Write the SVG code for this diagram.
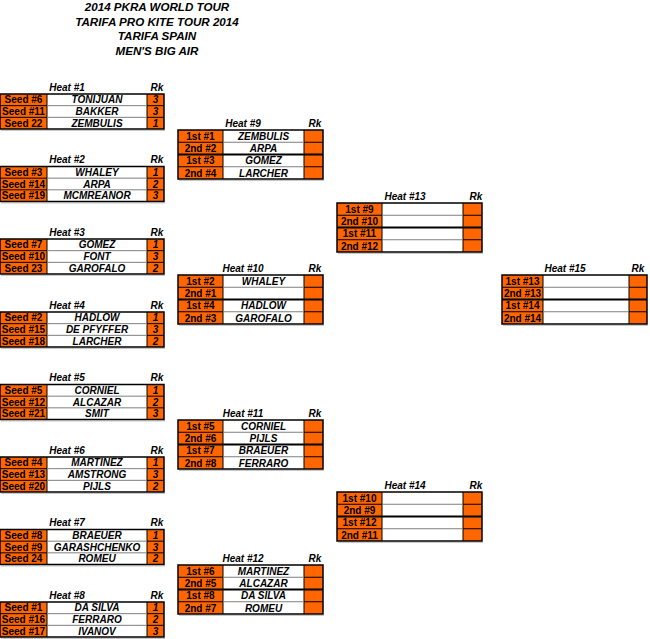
<svg xmlns="http://www.w3.org/2000/svg" width="650" height="639" viewBox="0 0 650 639">
<style>
text{font-family:"Liberation Sans",Arial,sans-serif;font-weight:bold;font-size:10px;fill:#000;text-anchor:middle}
.ti{font-size:11.6px;font-style:italic}
.it{font-style:italic}
.or{fill:#FF6600}
.wh{fill:#fff}
.bl{stroke:#000;stroke-width:1;fill:none}
.gr{stroke:#7f7f7f;stroke-width:1;fill:none}
.tk{stroke:#000;stroke-width:2;fill:none}
.ob{stroke:#000;stroke-width:1.5;fill:none}
.sh{stroke:#c8c8c8;stroke-width:1;fill:none}
</style>
<defs>
<g id="t3">
<rect class="or" x="0" y="0" width="47" height="35"/>
<rect class="wh" x="47" y="0" width="100" height="35"/>
<rect class="or" x="147" y="0" width="17" height="35"/>
<path class="bl" d="M0 11.67H47M0 23.33H47M147 11.67H164M147 23.33H164M47 0V35M147 0V35"/>
<path class="gr" d="M47 11.67H147M47 23.33H147"/>
<path class="sh" d="M1 36.5H165"/>
<rect class="ob" x="0" y="0" width="164" height="35"/>
</g>
<g id="t4a">
<rect class="or" x="0" y="0" width="45" height="49"/>
<rect class="wh" x="45" y="0" width="81" height="49"/>
<rect class="or" x="126" y="0" width="19" height="49"/>
<path class="bl" d="M0 12.25H45M0 36.75H45M126 12.25H145M126 36.75H145M45 0V49M126 0V49"/>
<path class="gr" d="M45 12.25H126M45 36.75H126"/>
<path class="tk" d="M0 24.5H145"/>
<path class="sh" d="M1 50.5H146"/>
<rect class="ob" x="0" y="0" width="145" height="49"/>
</g>
<g id="t4b">
<rect class="or" x="0" y="0" width="41" height="49"/>
<rect class="wh" x="41" y="0" width="86" height="49"/>
<rect class="or" x="127" y="0" width="18" height="49"/>
<path class="bl" d="M0 12.25H41M0 36.75H41M127 12.25H145M127 36.75H145M41 0V49M127 0V49"/>
<path class="gr" d="M41 12.25H127M41 36.75H127"/>
<path class="tk" d="M0 24.5H145"/>
<path class="sh" d="M1 50.5H146"/>
<rect class="ob" x="0" y="0" width="145" height="49"/>
</g>
</defs>

<g id="title">
<text class="ti" x="157" y="11">2014 PKRA WORLD TOUR</text>
<text class="ti" x="157" y="26">TARIFA PRO KITE TOUR 2014</text>
<text class="ti" x="157" y="40">TARIFA SPAIN</text>
<text class="ti" x="157" y="55">MEN'S BIG AIR</text>
</g>

<g id="connectors"/>

<g id="heat1" transform="translate(0,94)">
<text class="it" x="67" y="-3.5">Heat #1</text><text class="it" x="157" y="-3.5">Rk</text>
<use href="#t3"/>
<text x="23.5" y="9.4">Seed #6</text><text class="it" x="97" y="9.4">TONIJUAN</text><text class="it" x="155.5" y="9.4">3</text>
<text x="23.5" y="21">Seed #11</text><text class="it" x="97" y="21">BAKKER</text><text class="it" x="155.5" y="21">3</text>
<text x="23.5" y="32.7">Seed 22</text><text class="it" x="97" y="32.7">ZEMBULIS</text><text class="it" x="155.5" y="32.7">1</text>
</g>

<g id="heat2" transform="translate(0,166.5)">
<text class="it" x="67" y="-3.5">Heat #2</text><text class="it" x="157" y="-3.5">Rk</text>
<use href="#t3"/>
<text x="23.5" y="9.4">Seed #3</text><text class="it" x="97" y="9.4">WHALEY</text><text class="it" x="155.5" y="9.4">1</text>
<text x="23.5" y="21">Seed #14</text><text class="it" x="97" y="21">ARPA</text><text class="it" x="155.5" y="21">2</text>
<text x="23.5" y="32.7">Seed #19</text><text class="it" x="97" y="32.7">MCMREANOR</text><text class="it" x="155.5" y="32.7">3</text>
</g>

<g id="heat3" transform="translate(0,239)">
<text class="it" x="67" y="-3.5">Heat #3</text><text class="it" x="157" y="-3.5">Rk</text>
<use href="#t3"/>
<text x="23.5" y="9.4">Seed #7</text><text class="it" x="97" y="9.4">GOMEZ</text><text class="it" x="155.5" y="9.4">1</text>
<text x="23.5" y="21">Seed #10</text><text class="it" x="97" y="21">FONT</text><text class="it" x="155.5" y="21">3</text>
<text x="23.5" y="32.7">Seed 23</text><text class="it" x="97" y="32.7">GAROFALO</text><text class="it" x="155.5" y="32.7">2</text>
</g>

<g id="heat4" transform="translate(0,312)">
<text class="it" x="67" y="-3.5">Heat #4</text><text class="it" x="157" y="-3.5">Rk</text>
<use href="#t3"/>
<text x="23.5" y="9.4">Seed #2</text><text class="it" x="97" y="9.4">HADLOW</text><text class="it" x="155.5" y="9.4">1</text>
<text x="23.5" y="21">Seed #15</text><text class="it" x="97" y="21">DE PFYFFER</text><text class="it" x="155.5" y="21">3</text>
<text x="23.5" y="32.7">Seed #18</text><text class="it" x="97" y="32.7">LARCHER</text><text class="it" x="155.5" y="32.7">2</text>
</g>

<g id="heat5" transform="translate(0,384.5)">
<text class="it" x="67" y="-3.5">Heat #5</text><text class="it" x="157" y="-3.5">Rk</text>
<use href="#t3"/>
<text x="23.5" y="9.4">Seed #5</text><text class="it" x="97" y="9.4">CORNIEL</text><text class="it" x="155.5" y="9.4">1</text>
<text x="23.5" y="21">Seed #12</text><text class="it" x="97" y="21">ALCAZAR</text><text class="it" x="155.5" y="21">2</text>
<text x="23.5" y="32.7">Seed #21</text><text class="it" x="97" y="32.7">SMIT</text><text class="it" x="155.5" y="32.7">3</text>
</g>

<g id="heat6" transform="translate(0,457)">
<text class="it" x="67" y="-3.5">Heat #6</text><text class="it" x="157" y="-3.5">Rk</text>
<use href="#t3"/>
<text x="23.5" y="9.4">Seed #4</text><text class="it" x="97" y="9.4">MARTINEZ</text><text class="it" x="155.5" y="9.4">1</text>
<text x="23.5" y="21">Seed #13</text><text class="it" x="97" y="21">AMSTRONG</text><text class="it" x="155.5" y="21">3</text>
<text x="23.5" y="32.7">Seed #20</text><text class="it" x="97" y="32.7">PIJLS</text><text class="it" x="155.5" y="32.7">2</text>
</g>

<g id="heat7" transform="translate(0,529.5)">
<text class="it" x="67" y="-3.5">Heat #7</text><text class="it" x="157" y="-3.5">Rk</text>
<use href="#t3"/>
<text x="23.5" y="9.4">Seed #8</text><text class="it" x="97" y="9.4">BRAEUER</text><text class="it" x="155.5" y="9.4">1</text>
<text x="23.5" y="21">Seed #9</text><text class="it" x="97" y="21">GARASHCHENKO</text><text class="it" x="155.5" y="21">3</text>
<text x="23.5" y="32.7">Seed 24</text><text class="it" x="97" y="32.7">ROMEU</text><text class="it" x="155.5" y="32.7">2</text>
</g>

<g id="heat8" transform="translate(0,602)">
<text class="it" x="67" y="-3.5">Heat #8</text><text class="it" x="157" y="-3.5">Rk</text>
<use href="#t3"/>
<text x="23.5" y="9.4">Seed #1</text><text class="it" x="97" y="9.4">DA SILVA</text><text class="it" x="155.5" y="9.4">1</text>
<text x="23.5" y="21">Seed #16</text><text class="it" x="97" y="21">FERRARO</text><text class="it" x="155.5" y="21">2</text>
<text x="23.5" y="32.7">Seed #17</text><text class="it" x="97" y="32.7">IVANOV</text><text class="it" x="155.5" y="32.7">3</text>
</g>

<g id="heat9" transform="translate(178,130)">
<text class="it" x="65" y="-3.5">Heat #9</text><text class="it" x="137" y="-3.5">Rk</text>
<use href="#t4a"/>
<text x="22.5" y="9.7">1st #1</text><text class="it" x="85.5" y="9.7">ZEMBULIS</text>
<text x="22.5" y="22">2nd #2</text><text class="it" x="85.5" y="22">ARPA</text>
<text x="22.5" y="34.2">1st #3</text><text class="it" x="85.5" y="34.2">GOMEZ</text>
<text x="22.5" y="46.5">2nd #4</text><text class="it" x="85.5" y="46.5">LARCHER</text>
</g>

<g id="heat10" transform="translate(178,275)">
<text class="it" x="65" y="-3.5">Heat #10</text><text class="it" x="137" y="-3.5">Rk</text>
<use href="#t4a"/>
<text x="22.5" y="9.7">1st #2</text><text class="it" x="85.5" y="9.7">WHALEY</text>
<text x="22.5" y="22">2nd #1</text>
<text x="22.5" y="34.2">1st #4</text><text class="it" x="85.5" y="34.2">HADLOW</text>
<text x="22.5" y="46.5">2nd #3</text><text class="it" x="85.5" y="46.5">GAROFALO</text>
</g>

<g id="heat11" transform="translate(178,420)">
<text class="it" x="65" y="-3.5">Heat #11</text><text class="it" x="137" y="-3.5">Rk</text>
<use href="#t4a"/>
<text x="22.5" y="9.7">1st #5</text><text class="it" x="85.5" y="9.7">CORNIEL</text>
<text x="22.5" y="22">2nd #6</text><text class="it" x="85.5" y="22">PIJLS</text>
<text x="22.5" y="34.2">1st #7</text><text class="it" x="85.5" y="34.2">BRAEUER</text>
<text x="22.5" y="46.5">2nd #8</text><text class="it" x="85.5" y="46.5">FERRARO</text>
</g>

<g id="heat12" transform="translate(178,565)">
<text class="it" x="65" y="-3.5">Heat #12</text><text class="it" x="137" y="-3.5">Rk</text>
<use href="#t4a"/>
<text x="22.5" y="9.7">1st #6</text><text class="it" x="85.5" y="9.7">MARTINEZ</text>
<text x="22.5" y="22">2nd #5</text><text class="it" x="85.5" y="22">ALCAZAR</text>
<text x="22.5" y="34.2">1st #8</text><text class="it" x="85.5" y="34.2">DA SILVA</text>
<text x="22.5" y="46.5">2nd #7</text><text class="it" x="85.5" y="46.5">ROMEU</text>
</g>

<g id="heat13" transform="translate(337,203)">
<text class="it" x="68" y="-3.5">Heat #13</text><text class="it" x="139" y="-3.5">Rk</text>
<use href="#t4a"/>
<text x="22.5" y="9.7">1st #9</text>
<text x="22.5" y="22">2nd #10</text>
<text x="22.5" y="34.2">1st #11</text>
<text x="22.5" y="46.5">2nd #12</text>
</g>

<g id="heat14" transform="translate(337,492)">
<text class="it" x="68" y="-3.5">Heat #14</text><text class="it" x="139" y="-3.5">Rk</text>
<use href="#t4a"/>
<text x="22.5" y="9.7">1st #10</text>
<text x="22.5" y="22">2nd #9</text>
<text x="22.5" y="34.2">1st #12</text>
<text x="22.5" y="46.5">2nd #11</text>
</g>

<g id="heat15" transform="translate(502,275)">
<text class="it" x="63" y="-3.5">Heat #15</text><text class="it" x="136" y="-3.5">Rk</text>
<use href="#t4b"/>
<text x="20.5" y="9.7">1st #13</text>
<text x="20.5" y="22">2nd #13</text>
<text x="20.5" y="34.2">1st #14</text>
<text x="20.5" y="46.5">2nd #14</text>
</g>
</svg>
